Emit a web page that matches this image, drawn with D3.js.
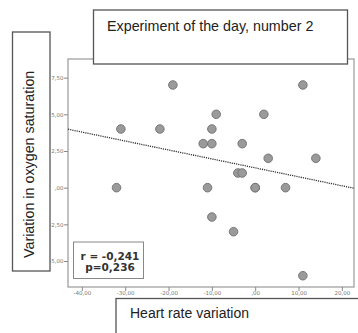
<!DOCTYPE html>
<html><head><meta charset="utf-8">
<script src="https://cdn.jsdelivr.net/npm/d3@7"></script>
<style>html,body{margin:0;padding:0;background:#fff;}svg{display:block;}</style>
</head><body>
<script>
// Data
const xValues = [-19, 11, -9, 2, -10, -12, -10, -3, 3, 14, -4, -3, -11, 0, 0, 7, -10, -5, 11, -31, -22, -32];
const yValues = [7, 7, 5, 5, 4, 3, 3, 3, 2, 2, 1, 1, 0, 0, 0, 0, -2, -3, -6, 4, 4, 0];
const xTicks = [-40, -30, -20, -10, 0, 10, 20];
const xTickLabels = ["-40,00", "-30,00", "-20,00", "-10,00", ",00", "10,00", "20,00"];
const yTicks = [7.5, 5, 2.5, 0, -2.5, -5];
const yTickLabels = ["7,50", "5,00", "2,50", ",00", "-2,50", "-5,00"];
const fitIntercept = 1.35;
const fitSlope = -0.061;
const statsLines = ["r = -0,241", "p=0,236"];
const titleText = "Experiment of the day, number 2";
const xLabel = "Heart rate variation";
const yLabel = "Variation in oxygen saturation";

const W = 358, H = 333;
const svg = d3.select("body").append("svg").attr("width", W).attr("height", H);

const plot = {x0: 68, x1: 354, y0: 59, y1: 287};
const x = d3.scaleLinear().domain([-43.2, 22.8]).range([plot.x0, plot.x1]);
const y = d3.scaleLinear().domain([-6.77, 8.77]).range([plot.y1, plot.y0]);

// frame
svg.append("rect").attr("x", plot.x0).attr("y", plot.y0)
  .attr("width", plot.x1 - plot.x0).attr("height", plot.y1 - plot.y0)
  .attr("fill", "#fff").attr("stroke", "#999").attr("stroke-width", 1.2);

// axes
const xAxis = d3.axisBottom(x).tickValues(xTicks)
  .tickFormat((d, i) => xTickLabels[i]).tickSize(4).tickSizeOuter(0);
const gx = svg.append("g").attr("transform", `translate(0,${plot.y1})`).call(xAxis);
gx.select(".domain").remove();
gx.selectAll("line").attr("stroke", "#888");
gx.selectAll("text").attr("font-family", "DejaVu Sans, sans-serif").attr("font-size", 5.5)
  .attr("fill", "#777").attr("dy", "0.9em").attr("y", 3.5);

const yAxis = d3.axisLeft(y).tickValues(yTicks)
  .tickFormat((d, i) => yTickLabels[i]).tickSize(4).tickSizeOuter(0);
const gy = svg.append("g").attr("transform", `translate(${plot.x0},0)`).call(yAxis);
gy.select(".domain").remove();
gy.selectAll("line").attr("stroke", "#888");
gy.selectAll("text").attr("font-family", "DejaVu Sans, sans-serif").attr("font-size", 5.5)
  .attr("fill", "#777").attr("x", -4.5);

// fit line
const xd = x.domain();
svg.append("line")
  .attr("x1", x(xd[0])).attr("y1", y(fitIntercept + fitSlope * xd[0]))
  .attr("x2", x(xd[1])).attr("y2", y(fitIntercept + fitSlope * xd[1]))
  .attr("stroke", "#333").attr("stroke-width", 1.3).attr("stroke-dasharray", "1.2,1");

// points
const pts = xValues.map((v, i) => ({x: v, y: yValues[i]}));
svg.append("g").selectAll("circle").data(pts).join("circle")
  .attr("cx", d => x(d.x)).attr("cy", d => y(d.y)).attr("r", 4.3)
  .attr("fill", "#9a9a9a").attr("stroke", "#707070").attr("stroke-width", 0.9);

// stats box
svg.append("rect").attr("x", 73.5).attr("y", 242).attr("width", 70).attr("height", 36.5)
  .attr("fill", "#fff").attr("stroke", "#888").attr("stroke-width", 1);
svg.append("g").selectAll("text").data(statsLines).join("text")
  .attr("x", 110).attr("y", (d, i) => 260 + i * 10.5)
  .attr("text-anchor", "middle").attr("font-family", "DejaVu Sans, sans-serif")
  .attr("font-weight", "bold").attr("font-size", 10.5).attr("fill", "#333")
  .text(d => d);

// title box
svg.append("rect").attr("x", 93.5).attr("y", 10).attr("width", 254).attr("height", 54)
  .attr("fill", "#fff").attr("stroke", "#555").attr("stroke-width", 1.3);
svg.append("text").attr("x", 107).attr("y", 30.5)
  .attr("font-family", "Liberation Sans, Arial, sans-serif").attr("font-size", 14.3)
  .attr("fill", "#222").text(titleText);

// y label box
svg.append("rect").attr("x", 12.5).attr("y", 32).attr("width", 37.5).attr("height", 239)
  .attr("fill", "#fff").attr("stroke", "#555").attr("stroke-width", 1.3);
svg.append("text").attr("transform", "translate(33.5,258) rotate(-90)")
  .attr("font-family", "Liberation Sans, Arial, sans-serif").attr("font-size", 14.3)
  .attr("fill", "#222").text(yLabel);

// x label box
svg.append("rect").attr("x", 116).attr("y", 298.5).attr("width", 260).attr("height", 60)
  .attr("fill", "#fff").attr("stroke", "#555").attr("stroke-width", 1.3);
svg.append("text").attr("x", 130).attr("y", 318)
  .attr("font-family", "Liberation Sans, Arial, sans-serif").attr("font-size", 14)
  .attr("fill", "#222").text(xLabel);
</script>
</body></html>
